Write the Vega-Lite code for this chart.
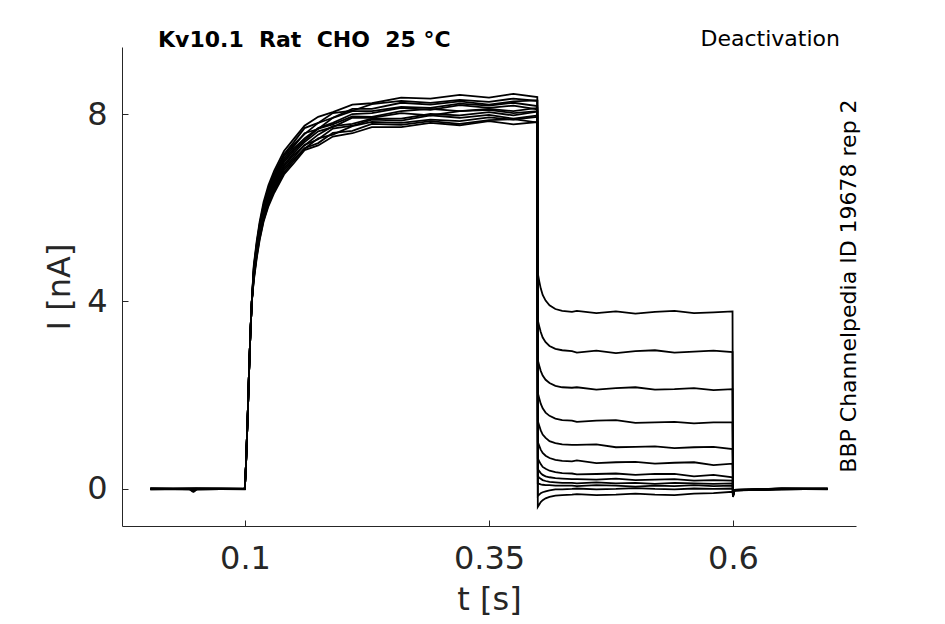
{
  "$schema": "https://vega.github.io/schema/vega-lite/v6.json",
  "width": 734,
  "height": 479,
  "autosize": {"type": "none"},
  "padding": {"left": 122, "top": 47, "right": 89, "bottom": 98},
  "background": "white",
  "config": {"view": {"stroke": null}, "font": "DejaVu Sans"},
  "data": {
    "values": [
      {"sweep":1,"t":0.003,"I":0},{"sweep":1,"t":0.043,"I":0},{"sweep":1,"t":0.046,"I":-0.05},{"sweep":1,"t":0.049,"I":0},{"sweep":1,"t":0.0998,"I":0},
      {"sweep":1,"t":0.101,"I":0.5},{"sweep":1,"t":0.102,"I":1.1},{"sweep":1,"t":0.103,"I":1.7},{"sweep":1,"t":0.104,"I":2.4},{"sweep":1,"t":0.1055,"I":3.3},{"sweep":1,"t":0.107,"I":4.0},
      {"sweep":1,"t":0.109,"I":4.61},{"sweep":1,"t":0.112,"I":5.11},{"sweep":1,"t":0.115,"I":5.51},{"sweep":1,"t":0.119,"I":5.91},{"sweep":1,"t":0.124,"I":6.27},{"sweep":1,"t":0.13,"I":6.57},{"sweep":1,"t":0.14,"I":6.97},{"sweep":1,"t":0.15,"I":7.22},{"sweep":1,"t":0.161,"I":7.44},{"sweep":1,"t":0.175,"I":7.69},{"sweep":1,"t":0.19,"I":7.78},{"sweep":1,"t":0.21,"I":7.95},{"sweep":1,"t":0.23,"I":7.94},{"sweep":1,"t":0.26,"I":8.06},{"sweep":1,"t":0.29,"I":8.11},{"sweep":1,"t":0.32,"I":8.06},{"sweep":1,"t":0.35,"I":8.11},{"sweep":1,"t":0.375,"I":8.06},{"sweep":1,"t":0.3995,"I":8.13},
      {"sweep":1,"t":0.4,"I":4.6},{"sweep":1,"t":0.4015,"I":4.43},{"sweep":1,"t":0.403,"I":4.28},{"sweep":1,"t":0.405,"I":4.14},{"sweep":1,"t":0.408,"I":4.02},{"sweep":1,"t":0.412,"I":3.92},{"sweep":1,"t":0.418,"I":3.84},{"sweep":1,"t":0.425,"I":3.8},{"sweep":1,"t":0.435,"I":3.78},{"sweep":1,"t":0.44,"I":3.8},{"sweep":1,"t":0.46,"I":3.75},{"sweep":1,"t":0.48,"I":3.79},{"sweep":1,"t":0.5,"I":3.74},{"sweep":1,"t":0.52,"I":3.78},{"sweep":1,"t":0.54,"I":3.8},{"sweep":1,"t":0.56,"I":3.75},{"sweep":1,"t":0.58,"I":3.77},{"sweep":1,"t":0.5995,"I":3.79},
      {"sweep":1,"t":0.6,"I":-0.15},{"sweep":1,"t":0.6015,"I":-0.03},{"sweep":1,"t":0.65,"I":-0.01},{"sweep":1,"t":0.697,"I":0},

      {"sweep":2,"t":0.003,"I":0.01},{"sweep":2,"t":0.044,"I":0},{"sweep":2,"t":0.047,"I":-0.06},{"sweep":2,"t":0.05,"I":-0.01},{"sweep":2,"t":0.0998,"I":0},
      {"sweep":2,"t":0.101,"I":0.5},{"sweep":2,"t":0.102,"I":1.1},{"sweep":2,"t":0.103,"I":1.7},{"sweep":2,"t":0.104,"I":2.4},{"sweep":2,"t":0.1055,"I":3.3},{"sweep":2,"t":0.107,"I":4.0},
      {"sweep":2,"t":0.109,"I":4.73},{"sweep":2,"t":0.112,"I":5.24},{"sweep":2,"t":0.115,"I":5.65},{"sweep":2,"t":0.119,"I":6.06},{"sweep":2,"t":0.124,"I":6.42},{"sweep":2,"t":0.13,"I":6.73},{"sweep":2,"t":0.14,"I":7.14},{"sweep":2,"t":0.15,"I":7.4},{"sweep":2,"t":0.161,"I":7.7},{"sweep":2,"t":0.175,"I":7.81},{"sweep":2,"t":0.19,"I":8.02},{"sweep":2,"t":0.21,"I":8.07},{"sweep":2,"t":0.23,"I":8.21},{"sweep":2,"t":0.26,"I":8.28},{"sweep":2,"t":0.29,"I":8.24},{"sweep":2,"t":0.32,"I":8.3},{"sweep":2,"t":0.35,"I":8.26},{"sweep":2,"t":0.375,"I":8.33},{"sweep":2,"t":0.3995,"I":8.28},
      {"sweep":2,"t":0.4,"I":3.6},{"sweep":2,"t":0.4015,"I":3.47},{"sweep":2,"t":0.403,"I":3.35},{"sweep":2,"t":0.405,"I":3.23},{"sweep":2,"t":0.408,"I":3.13},{"sweep":2,"t":0.412,"I":3.05},{"sweep":2,"t":0.418,"I":2.99},{"sweep":2,"t":0.425,"I":2.96},{"sweep":2,"t":0.435,"I":2.94},{"sweep":2,"t":0.44,"I":2.91},{"sweep":2,"t":0.46,"I":2.95},{"sweep":2,"t":0.48,"I":2.9},{"sweep":2,"t":0.5,"I":2.94},{"sweep":2,"t":0.52,"I":2.96},{"sweep":2,"t":0.54,"I":2.91},{"sweep":2,"t":0.56,"I":2.93},{"sweep":2,"t":0.58,"I":2.95},{"sweep":2,"t":0.5995,"I":2.92},
      {"sweep":2,"t":0.6,"I":-0.14},{"sweep":2,"t":0.6015,"I":-0.02},{"sweep":2,"t":0.65,"I":0},{"sweep":2,"t":0.697,"I":0.01},

      {"sweep":3,"t":0.003,"I":-0.01},{"sweep":3,"t":0.045,"I":-0.01},{"sweep":3,"t":0.048,"I":-0.05},{"sweep":3,"t":0.051,"I":0},{"sweep":3,"t":0.0998,"I":0.01},
      {"sweep":3,"t":0.101,"I":0.5},{"sweep":3,"t":0.102,"I":1.1},{"sweep":3,"t":0.103,"I":1.7},{"sweep":3,"t":0.104,"I":2.4},{"sweep":3,"t":0.1055,"I":3.3},{"sweep":3,"t":0.107,"I":4.0},
      {"sweep":3,"t":0.109,"I":4.5},{"sweep":3,"t":0.112,"I":4.99},{"sweep":3,"t":0.115,"I":5.38},{"sweep":3,"t":0.119,"I":5.77},{"sweep":3,"t":0.124,"I":6.11},{"sweep":3,"t":0.13,"I":6.4},{"sweep":3,"t":0.14,"I":6.8},{"sweep":3,"t":0.15,"I":7.04},{"sweep":3,"t":0.161,"I":7.26},{"sweep":3,"t":0.175,"I":7.48},{"sweep":3,"t":0.19,"I":7.56},{"sweep":3,"t":0.21,"I":7.74},{"sweep":3,"t":0.23,"I":7.83},{"sweep":3,"t":0.26,"I":7.81},{"sweep":3,"t":0.29,"I":7.88},{"sweep":3,"t":0.32,"I":7.85},{"sweep":3,"t":0.35,"I":7.93},{"sweep":3,"t":0.375,"I":7.88},{"sweep":3,"t":0.3995,"I":7.94},
      {"sweep":3,"t":0.4,"I":2.75},{"sweep":3,"t":0.4015,"I":2.63},{"sweep":3,"t":0.403,"I":2.52},{"sweep":3,"t":0.405,"I":2.42},{"sweep":3,"t":0.408,"I":2.33},{"sweep":3,"t":0.412,"I":2.26},{"sweep":3,"t":0.418,"I":2.2},{"sweep":3,"t":0.425,"I":2.17},{"sweep":3,"t":0.435,"I":2.16},{"sweep":3,"t":0.44,"I":2.17},{"sweep":3,"t":0.46,"I":2.12},{"sweep":3,"t":0.48,"I":2.15},{"sweep":3,"t":0.5,"I":2.17},{"sweep":3,"t":0.52,"I":2.12},{"sweep":3,"t":0.54,"I":2.13},{"sweep":3,"t":0.56,"I":2.15},{"sweep":3,"t":0.58,"I":2.11},{"sweep":3,"t":0.5995,"I":2.13},
      {"sweep":3,"t":0.6,"I":-0.16},{"sweep":3,"t":0.6015,"I":-0.03},{"sweep":3,"t":0.65,"I":0.01},{"sweep":3,"t":0.697,"I":0},

      {"sweep":4,"t":0.003,"I":0},{"sweep":4,"t":0.05,"I":0.01},{"sweep":4,"t":0.0998,"I":0},
      {"sweep":4,"t":0.101,"I":0.5},{"sweep":4,"t":0.102,"I":1.1},{"sweep":4,"t":0.103,"I":1.7},{"sweep":4,"t":0.104,"I":2.4},{"sweep":4,"t":0.1055,"I":3.3},{"sweep":4,"t":0.107,"I":4.0},
      {"sweep":4,"t":0.109,"I":4.67},{"sweep":4,"t":0.112,"I":5.18},{"sweep":4,"t":0.115,"I":5.58},{"sweep":4,"t":0.119,"I":5.99},{"sweep":4,"t":0.124,"I":6.34},{"sweep":4,"t":0.13,"I":6.65},{"sweep":4,"t":0.14,"I":7.05},{"sweep":4,"t":0.15,"I":7.31},{"sweep":4,"t":0.161,"I":7.59},{"sweep":4,"t":0.175,"I":7.68},{"sweep":4,"t":0.19,"I":7.92},{"sweep":4,"t":0.21,"I":8.06},{"sweep":4,"t":0.23,"I":8.06},{"sweep":4,"t":0.26,"I":8.15},{"sweep":4,"t":0.29,"I":8.13},{"sweep":4,"t":0.32,"I":8.22},{"sweep":4,"t":0.35,"I":8.18},{"sweep":4,"t":0.375,"I":8.24},{"sweep":4,"t":0.3995,"I":8.17},
      {"sweep":4,"t":0.4,"I":2.05},{"sweep":4,"t":0.4015,"I":1.93},{"sweep":4,"t":0.403,"I":1.82},{"sweep":4,"t":0.405,"I":1.72},{"sweep":4,"t":0.408,"I":1.63},{"sweep":4,"t":0.412,"I":1.56},{"sweep":4,"t":0.418,"I":1.5},{"sweep":4,"t":0.425,"I":1.47},{"sweep":4,"t":0.435,"I":1.46},{"sweep":4,"t":0.44,"I":1.43},{"sweep":4,"t":0.46,"I":1.46},{"sweep":4,"t":0.48,"I":1.47},{"sweep":4,"t":0.5,"I":1.41},{"sweep":4,"t":0.52,"I":1.42},{"sweep":4,"t":0.54,"I":1.43},{"sweep":4,"t":0.56,"I":1.4},{"sweep":4,"t":0.58,"I":1.42},{"sweep":4,"t":0.5995,"I":1.42},
      {"sweep":4,"t":0.6,"I":-0.13},{"sweep":4,"t":0.6015,"I":-0.02},{"sweep":4,"t":0.65,"I":0},{"sweep":4,"t":0.697,"I":-0.01},

      {"sweep":5,"t":0.003,"I":0.01},{"sweep":5,"t":0.05,"I":-0.01},{"sweep":5,"t":0.0998,"I":0},
      {"sweep":5,"t":0.101,"I":0.5},{"sweep":5,"t":0.102,"I":1.1},{"sweep":5,"t":0.103,"I":1.7},{"sweep":5,"t":0.104,"I":2.4},{"sweep":5,"t":0.1055,"I":3.3},{"sweep":5,"t":0.107,"I":4.0},
      {"sweep":5,"t":0.109,"I":4.55},{"sweep":5,"t":0.112,"I":5.05},{"sweep":5,"t":0.115,"I":5.45},{"sweep":5,"t":0.119,"I":5.84},{"sweep":5,"t":0.124,"I":6.19},{"sweep":5,"t":0.13,"I":6.49},{"sweep":5,"t":0.14,"I":6.88},{"sweep":5,"t":0.15,"I":7.13},{"sweep":5,"t":0.161,"I":7.33},{"sweep":5,"t":0.175,"I":7.56},{"sweep":5,"t":0.19,"I":7.74},{"sweep":5,"t":0.21,"I":7.79},{"sweep":5,"t":0.23,"I":7.9},{"sweep":5,"t":0.26,"I":7.9},{"sweep":5,"t":0.29,"I":8.0},{"sweep":5,"t":0.32,"I":7.97},{"sweep":5,"t":0.35,"I":8.04},{"sweep":5,"t":0.375,"I":7.97},{"sweep":5,"t":0.3995,"I":8.05},
      {"sweep":5,"t":0.4,"I":1.45},{"sweep":5,"t":0.4015,"I":1.35},{"sweep":5,"t":0.403,"I":1.25},{"sweep":5,"t":0.405,"I":1.16},{"sweep":5,"t":0.408,"I":1.09},{"sweep":5,"t":0.412,"I":1.02},{"sweep":5,"t":0.418,"I":0.98},{"sweep":5,"t":0.425,"I":0.95},{"sweep":5,"t":0.435,"I":0.94},{"sweep":5,"t":0.44,"I":0.94},{"sweep":5,"t":0.46,"I":0.95},{"sweep":5,"t":0.48,"I":0.89},{"sweep":5,"t":0.5,"I":0.9},{"sweep":5,"t":0.52,"I":0.91},{"sweep":5,"t":0.54,"I":0.87},{"sweep":5,"t":0.56,"I":0.89},{"sweep":5,"t":0.58,"I":0.9},{"sweep":5,"t":0.5995,"I":0.85},
      {"sweep":5,"t":0.6,"I":-0.12},{"sweep":5,"t":0.6015,"I":-0.02},{"sweep":5,"t":0.65,"I":0.01},{"sweep":5,"t":0.697,"I":0},

      {"sweep":6,"t":0.003,"I":0},{"sweep":6,"t":0.05,"I":0},{"sweep":6,"t":0.0998,"I":-0.01},
      {"sweep":6,"t":0.101,"I":0.5},{"sweep":6,"t":0.102,"I":1.1},{"sweep":6,"t":0.103,"I":1.7},{"sweep":6,"t":0.104,"I":2.4},{"sweep":6,"t":0.1055,"I":3.3},{"sweep":6,"t":0.107,"I":4.0},
      {"sweep":6,"t":0.109,"I":4.77},{"sweep":6,"t":0.112,"I":5.29},{"sweep":6,"t":0.115,"I":5.7},{"sweep":6,"t":0.119,"I":6.12},{"sweep":6,"t":0.124,"I":6.48},{"sweep":6,"t":0.13,"I":6.79},{"sweep":6,"t":0.14,"I":7.21},{"sweep":6,"t":0.15,"I":7.47},{"sweep":6,"t":0.161,"I":7.75},{"sweep":6,"t":0.175,"I":7.94},{"sweep":6,"t":0.19,"I":8.04},{"sweep":6,"t":0.21,"I":8.2},{"sweep":6,"t":0.23,"I":8.23},{"sweep":6,"t":0.26,"I":8.35},{"sweep":6,"t":0.29,"I":8.33},{"sweep":6,"t":0.32,"I":8.41},{"sweep":6,"t":0.35,"I":8.35},{"sweep":6,"t":0.375,"I":8.43},{"sweep":6,"t":0.3995,"I":8.36},
      {"sweep":6,"t":0.4,"I":1.0},{"sweep":6,"t":0.4015,"I":0.92},{"sweep":6,"t":0.403,"I":0.84},{"sweep":6,"t":0.405,"I":0.77},{"sweep":6,"t":0.408,"I":0.71},{"sweep":6,"t":0.412,"I":0.66},{"sweep":6,"t":0.418,"I":0.62},{"sweep":6,"t":0.425,"I":0.6},{"sweep":6,"t":0.435,"I":0.59},{"sweep":6,"t":0.44,"I":0.61},{"sweep":6,"t":0.46,"I":0.55},{"sweep":6,"t":0.48,"I":0.57},{"sweep":6,"t":0.5,"I":0.58},{"sweep":6,"t":0.52,"I":0.54},{"sweep":6,"t":0.54,"I":0.56},{"sweep":6,"t":0.56,"I":0.57},{"sweep":6,"t":0.58,"I":0.51},{"sweep":6,"t":0.5995,"I":0.54},
      {"sweep":6,"t":0.6,"I":-0.11},{"sweep":6,"t":0.6015,"I":-0.03},{"sweep":6,"t":0.65,"I":0},{"sweep":6,"t":0.697,"I":0},

      {"sweep":7,"t":0.003,"I":-0.01},{"sweep":7,"t":0.05,"I":0.01},{"sweep":7,"t":0.0998,"I":0},
      {"sweep":7,"t":0.101,"I":0.5},{"sweep":7,"t":0.102,"I":1.1},{"sweep":7,"t":0.103,"I":1.7},{"sweep":7,"t":0.104,"I":2.4},{"sweep":7,"t":0.1055,"I":3.3},{"sweep":7,"t":0.107,"I":4.0},
      {"sweep":7,"t":0.109,"I":4.44},{"sweep":7,"t":0.112,"I":4.92},{"sweep":7,"t":0.115,"I":5.31},{"sweep":7,"t":0.119,"I":5.7},{"sweep":7,"t":0.124,"I":6.03},{"sweep":7,"t":0.13,"I":6.32},{"sweep":7,"t":0.14,"I":6.71},{"sweep":7,"t":0.15,"I":6.95},{"sweep":7,"t":0.161,"I":7.23},{"sweep":7,"t":0.175,"I":7.33},{"sweep":7,"t":0.19,"I":7.52},{"sweep":7,"t":0.21,"I":7.59},{"sweep":7,"t":0.23,"I":7.72},{"sweep":7,"t":0.26,"I":7.72},{"sweep":7,"t":0.29,"I":7.81},{"sweep":7,"t":0.32,"I":7.76},{"sweep":7,"t":0.35,"I":7.85},{"sweep":7,"t":0.375,"I":7.78},{"sweep":7,"t":0.3995,"I":7.83},
      {"sweep":7,"t":0.4,"I":0.65},{"sweep":7,"t":0.4015,"I":0.59},{"sweep":7,"t":0.403,"I":0.53},{"sweep":7,"t":0.405,"I":0.47},{"sweep":7,"t":0.408,"I":0.43},{"sweep":7,"t":0.412,"I":0.39},{"sweep":7,"t":0.418,"I":0.36},{"sweep":7,"t":0.425,"I":0.34},{"sweep":7,"t":0.435,"I":0.33},{"sweep":7,"t":0.44,"I":0.31},{"sweep":7,"t":0.46,"I":0.32},{"sweep":7,"t":0.48,"I":0.33},{"sweep":7,"t":0.5,"I":0.3},{"sweep":7,"t":0.52,"I":0.32},{"sweep":7,"t":0.54,"I":0.32},{"sweep":7,"t":0.56,"I":0.27},{"sweep":7,"t":0.58,"I":0.3},{"sweep":7,"t":0.5995,"I":0.25},
      {"sweep":7,"t":0.6,"I":-0.12},{"sweep":7,"t":0.6015,"I":-0.02},{"sweep":7,"t":0.65,"I":-0.01},{"sweep":7,"t":0.697,"I":0},

      {"sweep":8,"t":0.003,"I":0},{"sweep":8,"t":0.05,"I":0},{"sweep":8,"t":0.0998,"I":0.01},
      {"sweep":8,"t":0.101,"I":0.5},{"sweep":8,"t":0.102,"I":1.1},{"sweep":8,"t":0.103,"I":1.7},{"sweep":8,"t":0.104,"I":2.4},{"sweep":8,"t":0.1055,"I":3.3},{"sweep":8,"t":0.107,"I":4.0},
      {"sweep":8,"t":0.109,"I":4.64},{"sweep":8,"t":0.112,"I":5.14},{"sweep":8,"t":0.115,"I":5.55},{"sweep":8,"t":0.119,"I":5.95},{"sweep":8,"t":0.124,"I":6.3},{"sweep":8,"t":0.13,"I":6.61},{"sweep":8,"t":0.14,"I":7.01},{"sweep":8,"t":0.15,"I":7.26},{"sweep":8,"t":0.161,"I":7.48},{"sweep":8,"t":0.175,"I":7.7},{"sweep":8,"t":0.19,"I":7.81},{"sweep":8,"t":0.21,"I":8.0},{"sweep":8,"t":0.23,"I":8.02},{"sweep":8,"t":0.26,"I":8.13},{"sweep":8,"t":0.29,"I":8.09},{"sweep":8,"t":0.32,"I":8.19},{"sweep":8,"t":0.35,"I":8.13},{"sweep":8,"t":0.375,"I":8.18},{"sweep":8,"t":0.3995,"I":8.1},
      {"sweep":8,"t":0.4,"I":0.42},{"sweep":8,"t":0.4015,"I":0.38},{"sweep":8,"t":0.403,"I":0.34},{"sweep":8,"t":0.405,"I":0.3},{"sweep":8,"t":0.408,"I":0.27},{"sweep":8,"t":0.412,"I":0.25},{"sweep":8,"t":0.418,"I":0.23},{"sweep":8,"t":0.425,"I":0.22},{"sweep":8,"t":0.435,"I":0.21},{"sweep":8,"t":0.44,"I":0.21},{"sweep":8,"t":0.46,"I":0.2},{"sweep":8,"t":0.48,"I":0.22},{"sweep":8,"t":0.5,"I":0.19},{"sweep":8,"t":0.52,"I":0.2},{"sweep":8,"t":0.54,"I":0.21},{"sweep":8,"t":0.56,"I":0.18},{"sweep":8,"t":0.58,"I":0.19},{"sweep":8,"t":0.5995,"I":0.18},
      {"sweep":8,"t":0.6,"I":-0.13},{"sweep":8,"t":0.6015,"I":-0.02},{"sweep":8,"t":0.65,"I":0},{"sweep":8,"t":0.697,"I":0.01},

      {"sweep":9,"t":0.003,"I":0.01},{"sweep":9,"t":0.05,"I":0},{"sweep":9,"t":0.0998,"I":0},
      {"sweep":9,"t":0.101,"I":0.5},{"sweep":9,"t":0.102,"I":1.1},{"sweep":9,"t":0.103,"I":1.7},{"sweep":9,"t":0.104,"I":2.4},{"sweep":9,"t":0.1055,"I":3.3},{"sweep":9,"t":0.107,"I":4.0},
      {"sweep":9,"t":0.109,"I":4.53},{"sweep":9,"t":0.112,"I":5.02},{"sweep":9,"t":0.115,"I":5.41},{"sweep":9,"t":0.119,"I":5.81},{"sweep":9,"t":0.124,"I":6.15},{"sweep":9,"t":0.13,"I":6.44},{"sweep":9,"t":0.14,"I":6.84},{"sweep":9,"t":0.15,"I":7.08},{"sweep":9,"t":0.161,"I":7.34},{"sweep":9,"t":0.175,"I":7.46},{"sweep":9,"t":0.19,"I":7.69},{"sweep":9,"t":0.21,"I":7.75},{"sweep":9,"t":0.23,"I":7.88},{"sweep":9,"t":0.26,"I":7.86},{"sweep":9,"t":0.29,"I":7.97},{"sweep":9,"t":0.32,"I":7.92},{"sweep":9,"t":0.35,"I":7.98},{"sweep":9,"t":0.375,"I":7.9},{"sweep":9,"t":0.3995,"I":7.97},
      {"sweep":9,"t":0.4,"I":0.27},{"sweep":9,"t":0.4015,"I":0.24},{"sweep":9,"t":0.403,"I":0.22},{"sweep":9,"t":0.405,"I":0.19},{"sweep":9,"t":0.408,"I":0.17},{"sweep":9,"t":0.412,"I":0.15},{"sweep":9,"t":0.418,"I":0.14},{"sweep":9,"t":0.425,"I":0.13},{"sweep":9,"t":0.435,"I":0.13},{"sweep":9,"t":0.44,"I":0.12},{"sweep":9,"t":0.46,"I":0.14},{"sweep":9,"t":0.48,"I":0.12},{"sweep":9,"t":0.5,"I":0.13},{"sweep":9,"t":0.52,"I":0.11},{"sweep":9,"t":0.54,"I":0.13},{"sweep":9,"t":0.56,"I":0.12},{"sweep":9,"t":0.58,"I":0.11},{"sweep":9,"t":0.5995,"I":0.12},
      {"sweep":9,"t":0.6,"I":-0.12},{"sweep":9,"t":0.6015,"I":-0.03},{"sweep":9,"t":0.65,"I":0},{"sweep":9,"t":0.697,"I":0},

      {"sweep":10,"t":0.003,"I":0},{"sweep":10,"t":0.05,"I":-0.01},{"sweep":10,"t":0.0998,"I":0},
      {"sweep":10,"t":0.101,"I":0.5},{"sweep":10,"t":0.102,"I":1.1},{"sweep":10,"t":0.103,"I":1.7},{"sweep":10,"t":0.104,"I":2.4},{"sweep":10,"t":0.1055,"I":3.3},{"sweep":10,"t":0.107,"I":4.0},
      {"sweep":10,"t":0.109,"I":4.7},{"sweep":10,"t":0.112,"I":5.21},{"sweep":10,"t":0.115,"I":5.62},{"sweep":10,"t":0.119,"I":6.02},{"sweep":10,"t":0.124,"I":6.38},{"sweep":10,"t":0.13,"I":6.69},{"sweep":10,"t":0.14,"I":7.1},{"sweep":10,"t":0.15,"I":7.35},{"sweep":10,"t":0.161,"I":7.57},{"sweep":10,"t":0.175,"I":7.81},{"sweep":10,"t":0.19,"I":7.92},{"sweep":10,"t":0.21,"I":8.11},{"sweep":10,"t":0.23,"I":8.11},{"sweep":10,"t":0.26,"I":8.24},{"sweep":10,"t":0.29,"I":8.2},{"sweep":10,"t":0.32,"I":8.27},{"sweep":10,"t":0.35,"I":8.2},{"sweep":10,"t":0.375,"I":8.27},{"sweep":10,"t":0.3995,"I":8.29},
      {"sweep":10,"t":0.4,"I":0.12},{"sweep":10,"t":0.4015,"I":0.11},{"sweep":10,"t":0.403,"I":0.1},{"sweep":10,"t":0.405,"I":0.09},{"sweep":10,"t":0.408,"I":0.08},{"sweep":10,"t":0.412,"I":0.08},{"sweep":10,"t":0.418,"I":0.07},{"sweep":10,"t":0.425,"I":0.07},{"sweep":10,"t":0.435,"I":0.07},{"sweep":10,"t":0.44,"I":0.06},{"sweep":10,"t":0.46,"I":0.08},{"sweep":10,"t":0.48,"I":0.07},{"sweep":10,"t":0.5,"I":0.05},{"sweep":10,"t":0.52,"I":0.07},{"sweep":10,"t":0.54,"I":0.06},{"sweep":10,"t":0.56,"I":0.08},{"sweep":10,"t":0.58,"I":0.06},{"sweep":10,"t":0.5995,"I":0.07},
      {"sweep":10,"t":0.6,"I":-0.14},{"sweep":10,"t":0.6015,"I":-0.02},{"sweep":10,"t":0.65,"I":0.01},{"sweep":10,"t":0.697,"I":0},

      {"sweep":11,"t":0.003,"I":0},{"sweep":11,"t":0.05,"I":0.01},{"sweep":11,"t":0.0998,"I":0},
      {"sweep":11,"t":0.101,"I":0.5},{"sweep":11,"t":0.102,"I":1.1},{"sweep":11,"t":0.103,"I":1.7},{"sweep":11,"t":0.104,"I":2.4},{"sweep":11,"t":0.1055,"I":3.3},{"sweep":11,"t":0.107,"I":4.0},
      {"sweep":11,"t":0.109,"I":4.47},{"sweep":11,"t":0.112,"I":4.96},{"sweep":11,"t":0.115,"I":5.34},{"sweep":11,"t":0.119,"I":5.73},{"sweep":11,"t":0.124,"I":6.07},{"sweep":11,"t":0.13,"I":6.36},{"sweep":11,"t":0.14,"I":6.75},{"sweep":11,"t":0.15,"I":7.0},{"sweep":11,"t":0.161,"I":7.27},{"sweep":11,"t":0.175,"I":7.38},{"sweep":11,"t":0.19,"I":7.6},{"sweep":11,"t":0.21,"I":7.64},{"sweep":11,"t":0.23,"I":7.79},{"sweep":11,"t":0.26,"I":7.77},{"sweep":11,"t":0.29,"I":7.85},{"sweep":11,"t":0.32,"I":7.79},{"sweep":11,"t":0.35,"I":7.87},{"sweep":11,"t":0.375,"I":7.89},{"sweep":11,"t":0.3995,"I":7.82},
      {"sweep":11,"t":0.4,"I":-0.15},{"sweep":11,"t":0.4015,"I":-0.12},{"sweep":11,"t":0.403,"I":-0.09},{"sweep":11,"t":0.405,"I":-0.07},{"sweep":11,"t":0.408,"I":-0.05},{"sweep":11,"t":0.412,"I":-0.03},{"sweep":11,"t":0.418,"I":-0.01},{"sweep":11,"t":0.425,"I":-0.01},{"sweep":11,"t":0.435,"I":0},{"sweep":11,"t":0.44,"I":0.01},{"sweep":11,"t":0.46,"I":-0.01},{"sweep":11,"t":0.48,"I":0},{"sweep":11,"t":0.5,"I":0.02},{"sweep":11,"t":0.52,"I":0},{"sweep":11,"t":0.54,"I":-0.01},{"sweep":11,"t":0.56,"I":0.01},{"sweep":11,"t":0.58,"I":0},{"sweep":11,"t":0.5995,"I":0.01},
      {"sweep":11,"t":0.6,"I":-0.15},{"sweep":11,"t":0.6015,"I":-0.03},{"sweep":11,"t":0.65,"I":0},{"sweep":11,"t":0.697,"I":0},

      {"sweep":12,"t":0.003,"I":0},{"sweep":12,"t":0.05,"I":0},{"sweep":12,"t":0.0998,"I":0},
      {"sweep":12,"t":0.101,"I":0.5},{"sweep":12,"t":0.102,"I":1.1},{"sweep":12,"t":0.103,"I":1.7},{"sweep":12,"t":0.104,"I":2.4},{"sweep":12,"t":0.1055,"I":3.3},{"sweep":12,"t":0.107,"I":4.0},
      {"sweep":12,"t":0.109,"I":4.58},{"sweep":12,"t":0.112,"I":5.08},{"sweep":12,"t":0.115,"I":5.48},{"sweep":12,"t":0.119,"I":5.88},{"sweep":12,"t":0.124,"I":6.23},{"sweep":12,"t":0.13,"I":6.53},{"sweep":12,"t":0.14,"I":6.92},{"sweep":12,"t":0.15,"I":7.17},{"sweep":12,"t":0.161,"I":7.4},{"sweep":12,"t":0.175,"I":7.63},{"sweep":12,"t":0.19,"I":7.72},{"sweep":12,"t":0.21,"I":7.92},{"sweep":12,"t":0.23,"I":7.92},{"sweep":12,"t":0.26,"I":8.02},{"sweep":12,"t":0.29,"I":7.97},{"sweep":12,"t":0.32,"I":8.06},{"sweep":12,"t":0.35,"I":8.09},{"sweep":12,"t":0.375,"I":8.02},{"sweep":12,"t":0.3995,"I":8.06},
      {"sweep":12,"t":0.4,"I":-0.38},{"sweep":12,"t":0.4015,"I":-0.33},{"sweep":12,"t":0.403,"I":-0.28},{"sweep":12,"t":0.405,"I":-0.24},{"sweep":12,"t":0.408,"I":-0.2},{"sweep":12,"t":0.412,"I":-0.17},{"sweep":12,"t":0.418,"I":-0.14},{"sweep":12,"t":0.425,"I":-0.13},{"sweep":12,"t":0.435,"I":-0.12},{"sweep":12,"t":0.44,"I":-0.11},{"sweep":12,"t":0.46,"I":-0.13},{"sweep":12,"t":0.48,"I":-0.12},{"sweep":12,"t":0.5,"I":-0.1},{"sweep":12,"t":0.52,"I":-0.12},{"sweep":12,"t":0.54,"I":-0.13},{"sweep":12,"t":0.56,"I":-0.1},{"sweep":12,"t":0.58,"I":-0.09},{"sweep":12,"t":0.5995,"I":-0.06},
      {"sweep":12,"t":0.6,"I":-0.17},{"sweep":12,"t":0.6015,"I":-0.03},{"sweep":12,"t":0.65,"I":-0.01},{"sweep":12,"t":0.697,"I":0}
    ]
  },
  "layer": [
    {
      "mark": {"type": "line", "stroke": "black", "strokeWidth": 1.8, "clip": true},
      "encoding": {
        "x": {
          "field": "t",
          "type": "quantitative",
          "scale": {"domain": [-0.026, 0.726], "nice": false, "zero": false},
          "axis": {
            "title": "t [s]",
            "values": [0.1, 0.35, 0.6],
            "format": "~g",
            "grid": false,
            "domainColor": "#262626",
            "tickColor": "#262626",
            "tickSize": -6,
            "labelFontSize": 32,
            "labelColor": "#262626",
            "labelPadding": 23,
            "labelFlush": false,
            "titleFontSize": 32,
            "titleFontWeight": "normal",
            "titleColor": "#262626",
            "titlePadding": 10
          }
        },
        "y": {
          "field": "I",
          "type": "quantitative",
          "scale": {"domain": [-0.79, 9.43], "nice": false, "zero": false},
          "axis": {
            "title": "I [nA]",
            "values": [0, 4, 8],
            "format": "~g",
            "grid": false,
            "domainColor": "#262626",
            "tickColor": "#262626",
            "tickSize": -6,
            "labelFontSize": 32,
            "labelColor": "#262626",
            "labelPadding": 21,
            "labelFlush": false,
            "titleFontSize": 32,
            "titleFontWeight": "normal",
            "titleColor": "#262626",
            "titlePadding": 10
          }
        },
        "detail": {"field": "sweep", "type": "nominal"}
      }
    },
    {
      "data": {"values": [{"label": "Kv10.1\u00a0\u00a0Rat\u00a0\u00a0CHO\u00a0\u00a025 °C"}]},
      "mark": {"type": "text", "align": "left", "baseline": "alphabetic", "fontSize": 22, "fontWeight": "bold", "font": "DejaVu Sans", "color": "black"},
      "encoding": {
        "text": {"field": "label"},
        "x": {"datum": 0.0109, "type": "quantitative"},
        "y": {"datum": 9.42, "type": "quantitative"}
      }
    },
    {
      "data": {"values": [{"label": "Deactivation"}]},
      "mark": {"type": "text", "align": "right", "baseline": "alphabetic", "fontSize": 22, "font": "DejaVu Sans", "color": "black"},
      "encoding": {
        "text": {"field": "label"},
        "x": {"datum": 0.7096, "type": "quantitative"},
        "y": {"datum": 9.45, "type": "quantitative"}
      }
    },
    {
      "data": {"values": [{"label": "BBP Channelpedia ID 19678 rep 2"}]},
      "mark": {"type": "text", "align": "center", "baseline": "middle", "angle": 270, "fontSize": 22, "font": "DejaVu Sans", "color": "black"},
      "encoding": {
        "text": {"field": "label"},
        "x": {"datum": 0.7189, "type": "quantitative"},
        "y": {"datum": 4.33, "type": "quantitative"}
      }
    }
  ]
}
